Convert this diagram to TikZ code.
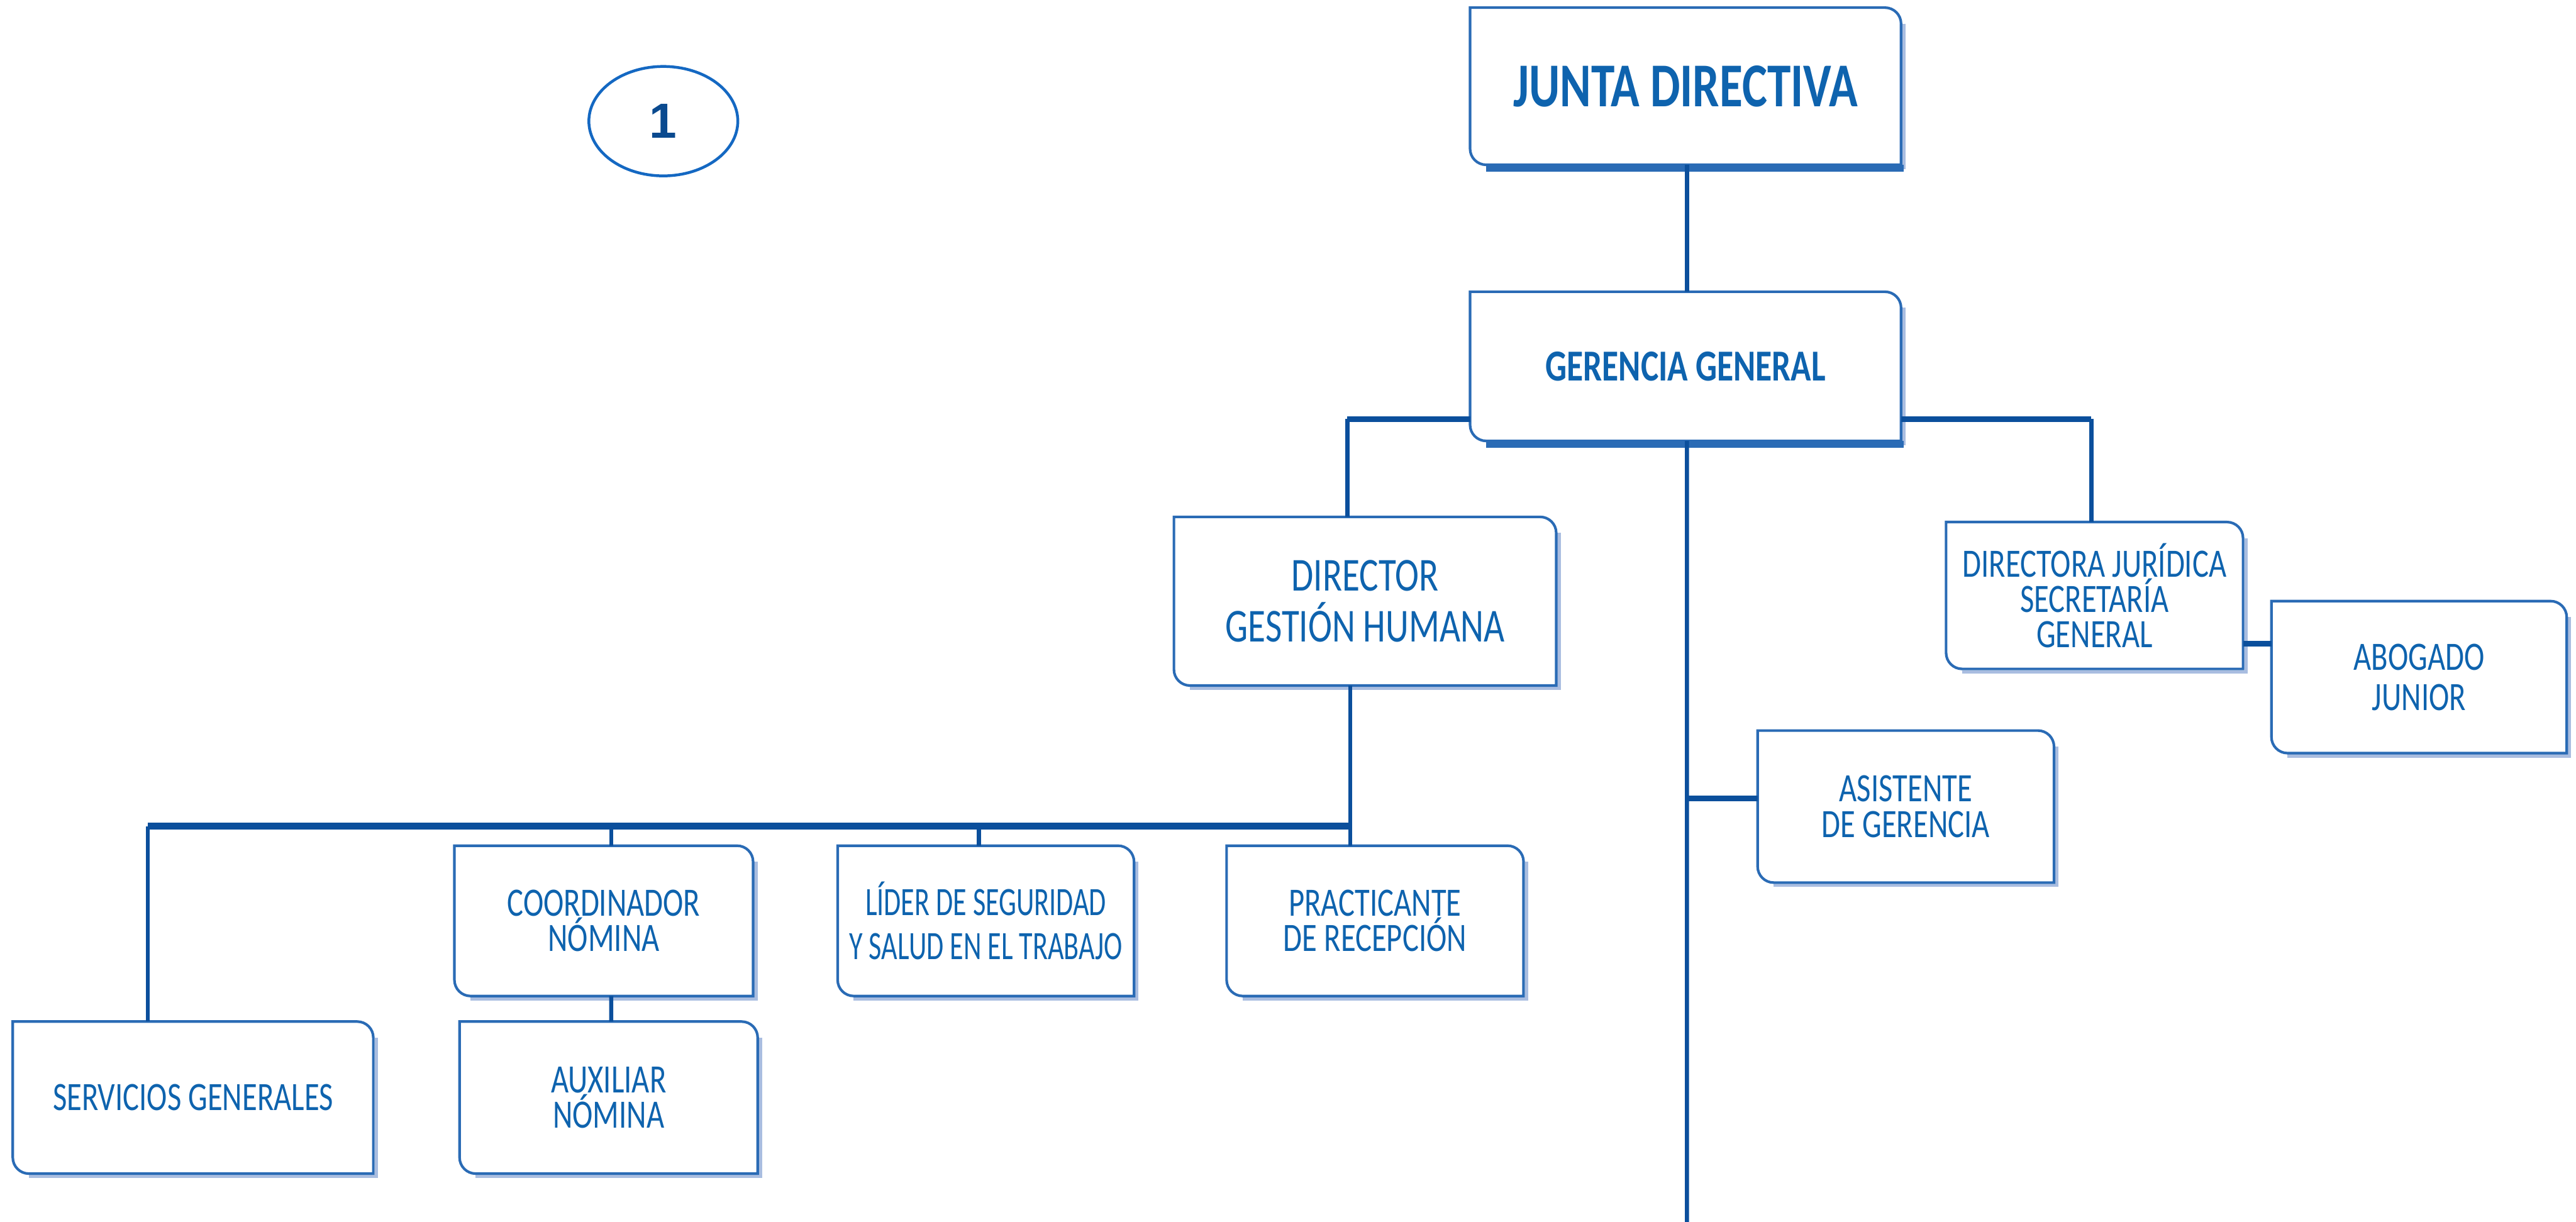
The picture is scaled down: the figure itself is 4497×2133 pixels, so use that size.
\documentclass[tikz,border=0pt]{standalone}
\usepackage{fontspec}
\setmainfont{Liberation Sans}
\newfontfamily\orgf[FakeStretch=0.76]{Carlito}
\newfontfamily\orgn[FakeStretch=0.69]{Carlito}
\usetikzlibrary{calc,shapes.geometric}
\definecolor{txt}{HTML}{0E63AE}
\definecolor{bord}{HTML}{2A6BB5}
\definecolor{shad}{HTML}{A9BDE0}
\definecolor{conn}{HTML}{0B4F9C}
\definecolor{ovl}{HTML}{1468C2}
\definecolor{one}{HTML}{0A4A8F}
\tikzset{
  box/.style={rectangle, inner sep=0pt, text=txt, align=center,
    font=\orgf\fontsize{20}{17.5}\selectfont},
  boxline/.style={draw=bord, line width=1.3pt},
  shadline/.style={draw=shad, line width=1.6pt},
  vlink/.style={draw=conn, line width=2pt},
  hlink/.style={draw=conn, line width=2.8pt},
  buslink/.style={draw=conn, line width=3.4pt},
}
\newcommand\orgbox[2][28]{%
  \draw[shadline] ($(#2.north east)+(5,#1)$) -- ($(#2.south east)+(5,5)$) -- ($(#2.south west)+(#1,5)$);
  \draw[boxline] (#2.north west) -- ($(#2.north east)+(-#1,0)$)
    .. controls ($(#2.north east)+(-0.45*#1,0)$) and ($(#2.north east)+(0,0.45*#1)$) .. ($(#2.north east)+(0,#1)$)
    -- (#2.south east) -- ($(#2.south west)+(#1,0)$)
    .. controls ($(#2.south west)+(0.45*#1,0)$) and ($(#2.south west)+(0,-0.45*#1)$) .. ($(#2.south west)+(0,-#1)$)
    -- cycle;}
\begin{document}
\begin{tikzpicture}[x=0.1mm,y=-0.1mm]
\useasboundingbox (0,0) rectangle (4497,2133);

% oval
\node[draw=ovl, line width=1.4pt, ellipse, minimum width=26mm, minimum height=19.1mm, inner sep=0pt,
  font=\bfseries\fontsize{24.5}{26}\selectfont, text=one] (num) at (1158,211.5) {1};

% boxes
\node[box, font=\orgf\bfseries\fontsize{31}{34}\selectfont, minimum width=75.1mm, minimum height=27.3mm] (jd) at (2942.5,150.5) {JUNTA DIRECTIVA};
\node[box, font=\orgf\bfseries\fontsize{22}{24}\selectfont, minimum width=75.1mm, minimum height=25.9mm] (gg) at (2942.5,639.5) {GERENCIA GENERAL};
\node[box, font=\orgf\fontsize{23.5}{25.3}\selectfont, minimum width=66.6mm, minimum height=29.3mm] (dgh) at (2383,1049.5) {DIRECTOR\\GESTIÓN HUMANA};
\node[box, minimum width=62.8mm, minimum height=26.4mm] (sg) at (337,1916) {SERVICIOS GENERALES};
\node[box, minimum width=52mm, minimum height=26.1mm] (cn) at (1054,1607.5) {COORDINADOR\\NÓMINA};
\node[box, minimum width=51.9mm, minimum height=26.4mm] (an) at (1062.5,1916) {AUXILIAR\\NÓMINA};
\node[box, font=\orgn\fontsize{20}{22}\selectfont, minimum width=51.6mm, minimum height=26.1mm] (ls) at (1721,1607.5) {LÍDER DE SEGURIDAD\\Y SALUD EN EL TRABAJO};
\node[box, minimum width=51.7mm, minimum height=26.1mm] (pr) at (2400.5,1607.5) {PRACTICANTE\\DE RECEPCIÓN};
\node[box, font=\orgf\fontsize{20}{18}\selectfont, minimum width=51.6mm, minimum height=26.4mm] (ag) at (3327,1408) {ASISTENTE\\DE GERENCIA};
\node[box, minimum width=51.7mm, minimum height=25.5mm] (dj) at (3656.5,1039.5) {DIRECTORA JURÍDICA\\SECRETARÍA\\GENERAL};
\node[box, font=\orgf\fontsize{20}{20}\selectfont, minimum width=51.4mm, minimum height=26.4mm] (ab) at (4223,1182) {ABOGADO\\JUNIOR};

\foreach \b in {jd,gg,dgh,sg,cn,an,ls,pr,ag,dj,ab} {\orgbox{\b}}
% heavy bottom edges of the two top boxes
\draw[draw=bord, line width=3.6pt] ($(jd.south west)+(28,6)$) -- ($(jd.south east)+(5,6)$);
\draw[draw=bord, line width=3.6pt] ($(gg.south west)+(28,6)$) -- ($(gg.south east)+(5,6)$);

% connectors
\coordinate (bottomend) at (2945,2133);
\draw[vlink] ([xshift=0.25mm]jd.south) -- ([xshift=0.25mm]gg.north);
\draw[vlink] ([xshift=0.25mm]gg.south) -- (bottomend);

\coordinate (gL) at ($(gg.south west)+(0,-38)$);
\coordinate (gR) at ($(gg.south east)+(0,-38)$);
\coordinate (dT) at ([xshift=-3.1mm]dgh.north);
\coordinate (jT) at ([xshift=-0.55mm]dj.north);
\draw[hlink] (gL) -- (gL -| dT);
\draw[vlink] (gL -| dT) -- (dT);
\draw[hlink] (gR) -- (gR -| jT);
\draw[vlink] (gR -| jT) -- (jT);

\coordinate (dB) at ([xshift=-2.6mm]dgh.south);
\draw[vlink] (dB) -- (dB |- pr.north);
\coordinate (busR) at ($(dB |- pr.north)+(0,-34)$);
\coordinate (sT) at ([xshift=-7.9mm]sg.north);
\coordinate (cT) at ([xshift=1.3mm]cn.north);
\coordinate (lT) at ([xshift=-1.2mm]ls.north);
\draw[buslink] (busR) -- (busR -| sT);
\draw[vlink] (busR -| sT) -- (sT);
\draw[vlink] (busR -| cT) -- (cT);
\draw[vlink] (busR -| lT) -- (lT);
\draw[vlink] ([xshift=1.3mm]cn.south) -- ([xshift=0.45mm]an.north);

\coordinate (aW) at ([yshift=1.4mm]ag.west);
\draw[hlink] (aW -| bottomend) -- (aW);
\coordinate (djE) at ([yshift=-8.45mm]dj.east);
\draw[hlink] (djE) -- (djE -| ab.west);
\end{tikzpicture}
\end{document}
